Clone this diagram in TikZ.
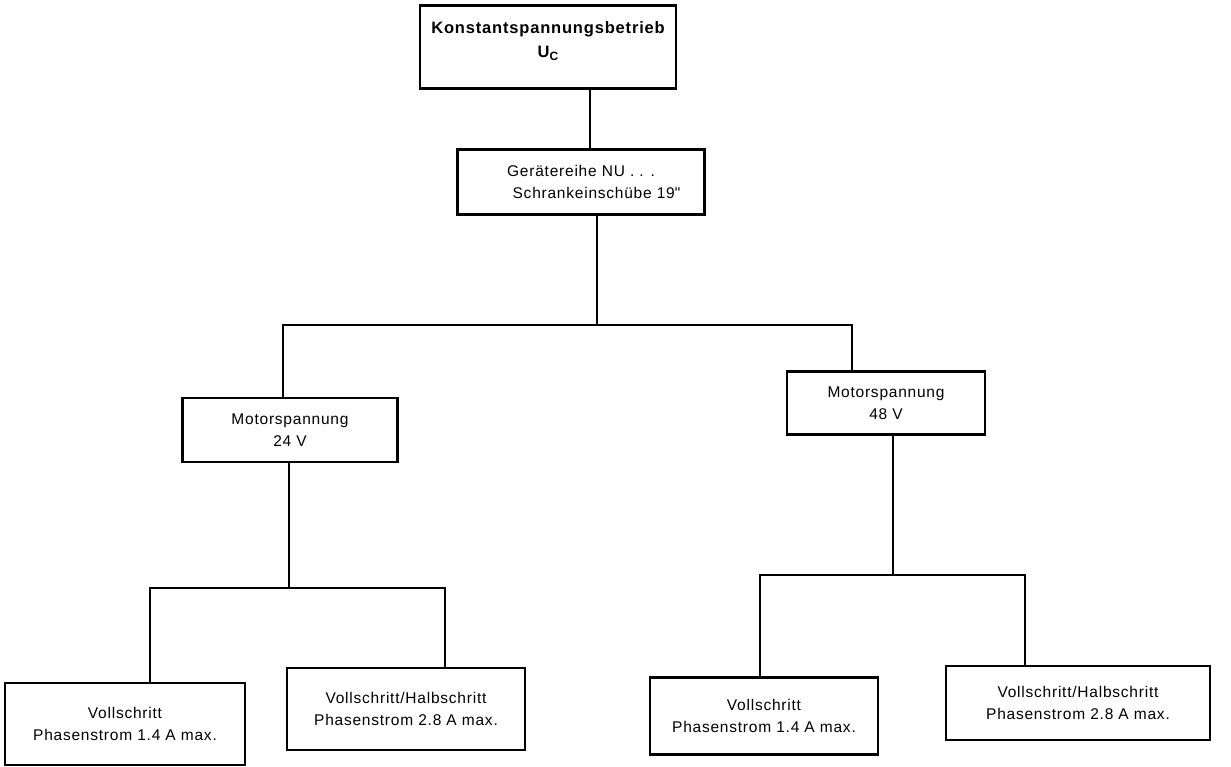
\documentclass[tikz,border=0pt]{standalone}
\usepackage{fontspec}
\setmainfont{Liberation Sans}[LetterSpace=5]
\newfontfamily\qfont{Liberation Sans}
\begin{document}
\begin{tikzpicture}[x=1pt,y=-1pt,
  box/.style={draw=black,line width=2.6pt,align=center,inner sep=0pt,font=\fontsize{15.5}{21.5}\selectfont},
  conn/.style={draw=black,line width=2.2pt}]
\useasboundingbox[fill=white] (0,0) rectangle (1231,767);
\node[box,minimum width=256pt,minimum height=83pt,font=\fontsize{16.5}{23}\selectfont\bfseries] (top) at (548,47)
  {\raisebox{6pt}[\height][\depth]{\begin{tabular}{@{}c@{}}Konstantspannungsbetrieb\\[1pt] U\raisebox{-0.35ex}{\fontsize{12}{12}\selectfont C}\end{tabular}}};
\node[box,minimum width=247pt,minimum height=65pt] (sec) at (581,182) {Gerätereihe NU . . .\\ \hspace*{2em}Schrankeinschübe 19{\qfont"}};
\node[box,minimum width=215pt,minimum height=64pt] (ms1) at (290,430) {Motorspannung\\24 V};
\node[box,minimum width=198pt,minimum height=63pt] (ms2) at (886,403) {Motorspannung\\48 V};
\node[box,minimum width=240pt,minimum height=82pt] (b1) at (125,724) {Vollschritt\\Phasenstrom 1.4 A max.};
\node[box,minimum width=238pt,minimum height=82pt] (b2) at (406,709) {Vollschritt/Halbschritt\\Phasenstrom 2.8 A max.};
\node[box,minimum width=228pt,minimum height=77pt] (b3) at (764,716) {Vollschritt\\Phasenstrom 1.4 A max.};
\node[box,minimum width=264pt,minimum height=74pt] (b4) at (1078,703) {Vollschritt/Halbschritt\\Phasenstrom 2.8 A max.};
\coordinate (c0) at (590,0);
\coordinate (j0) at (597,325);
\coordinate (jl) at (283,325);
\coordinate (jr) at (852,325);
\coordinate (k1) at (289,588);
\coordinate (kl) at (150,588);
\coordinate (kr) at (445,588);
\coordinate (m1) at (893,575);
\coordinate (ml) at (760,575);
\coordinate (mr) at (1025,575);
\draw[conn] (c0 |- top.south) -- (c0 |- sec.north);
\draw[conn] (j0 |- sec.south) -- (j0);
\draw[conn] (jl |- ms1.north) -- (jl) -- (jr) -- (jr |- ms2.north);
\draw[conn] (k1 |- ms1.south) -- (k1);
\draw[conn] (kl |- b1.north) -- (kl) -- (kr) -- (kr |- b2.north);
\draw[conn] (m1 |- ms2.south) -- (m1);
\draw[conn] (ml |- b3.north) -- (ml) -- (mr) -- (mr |- b4.north);
\end{tikzpicture}
\end{document}
